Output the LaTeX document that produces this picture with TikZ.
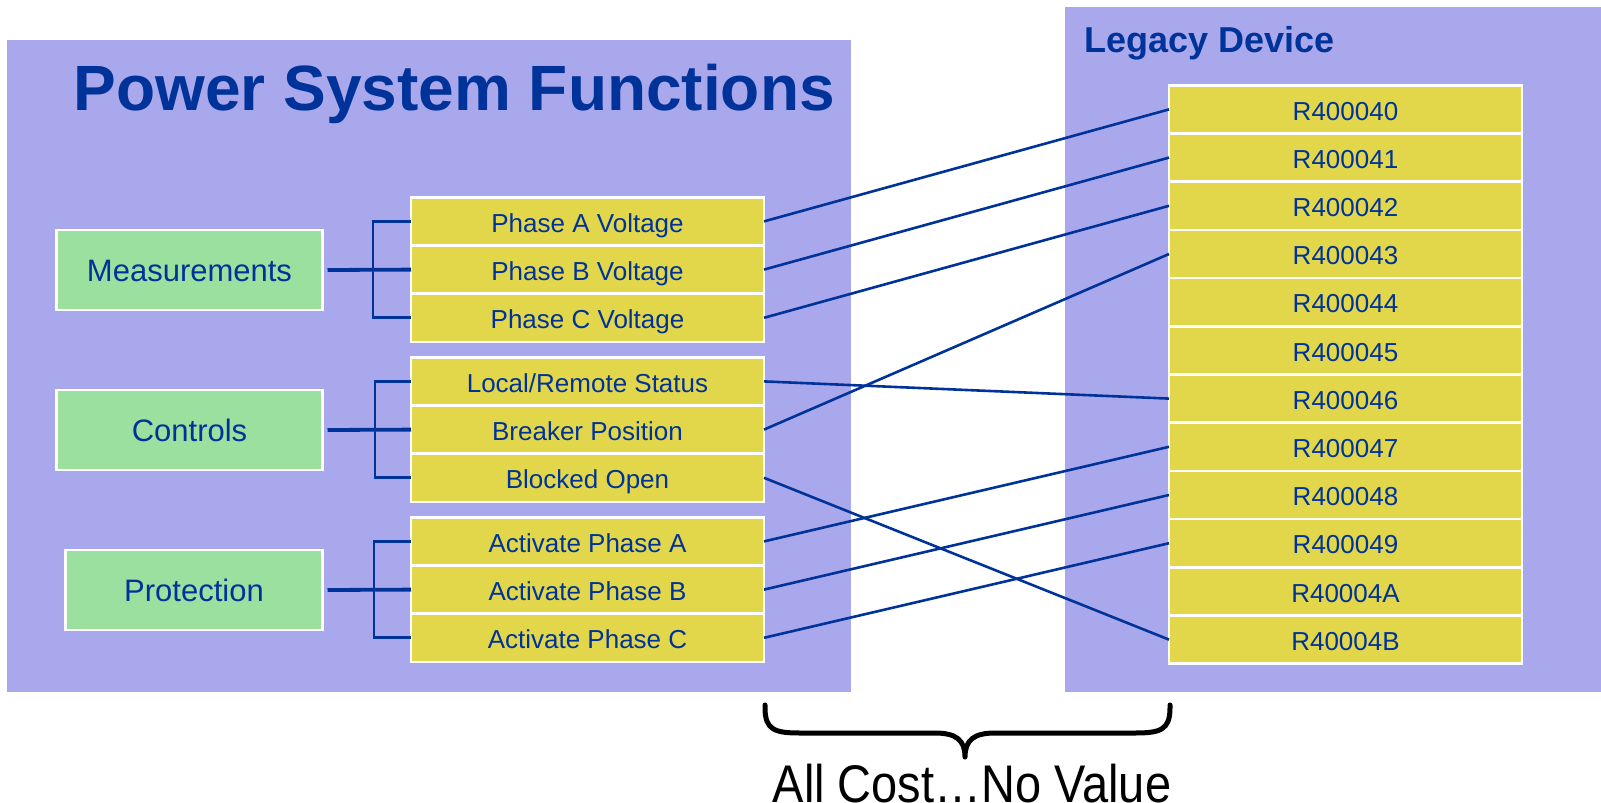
\documentclass[tikz,border=0pt]{standalone}
\usepackage{fontspec}
\setmainfont{Liberation Sans}
\usetikzlibrary{calc}
\definecolor{panelc}{RGB}{170,168,236}
\definecolor{yellowc}{RGB}{226,215,74}
\definecolor{greenc}{RGB}{155,224,158}
\definecolor{bluec}{RGB}{0,51,153}
\begin{document}
\begin{tikzpicture}[x=1pt,y=-1pt,
  panelbox/.style={fill=panelc,draw=none},
  ybox/.style={fill=yellowc,draw=white,line width=2.5pt,minimum width=353pt,minimum height=48.2pt,inner sep=0pt,outer sep=0pt,text=bluec,font=\fontsize{26}{26}\selectfont,text height=21.5pt,text depth=0pt},
  gbox/.style={fill=greenc,draw=white,line width=2.5pt,minimum height=80pt,inner sep=0pt,outer sep=0pt,text=bluec,font=\fontsize{31}{31}\selectfont,text height=23pt,text depth=0pt},
  conn/.style={draw=bluec,line width=2.6pt},
  trunk/.style={draw=bluec,line width=3.8pt},
  branch/.style={draw=bluec,line width=2.8pt},
  titletext/.style={text=bluec,inner sep=0pt,anchor=base west,font=\bfseries\fontsize{64}{64}\selectfont},
  subtitletext/.style={text=bluec,inner sep=0pt,anchor=base west,font=\bfseries\fontsize{36}{36}\selectfont},
  bracepath/.style={draw=black,line width=5pt,line cap=round,line join=round}
]
\useasboundingbox (0,0) rectangle (1601,803);
% panels
\path[panelbox] (7,40) rectangle (851,692);
\path[panelbox] (1065,7) rectangle (1601,692);
\node[titletext] (title) at (73.5,110) {Power System Functions};
\node[subtitletext] (legacy) at (1084,52) {Legacy Device};
% green boxes
\node[gbox,minimum width=266pt] (meas) at (189.5,270) {Measurements};
\node[gbox,minimum width=266pt] (ctrl) at (189.5,430) {Controls};
\node[gbox,minimum width=257pt] (prot) at (194,590) {Protection};
% left yellow boxes
\node[ybox] (phA) at (587.5,221.4) {Phase A Voltage};
\node[ybox] (phB) at (587.5,269.6) {Phase B Voltage};
\node[ybox] (phC) at (587.5,317.8) {Phase C Voltage};
\node[ybox] (lrs) at (587.5,381.4) {Local/Remote Status};
\node[ybox] (brk) at (587.5,429.6) {Breaker Position};
\node[ybox] (blk) at (587.5,477.8) {Blocked Open};
\node[ybox] (acA) at (587.5,541.4) {Activate Phase A};
\node[ybox] (acB) at (587.5,589.6) {Activate Phase B};
\node[ybox] (acC) at (587.5,637.8) {Activate Phase C};
% right yellow boxes
\node[ybox] (r40) at (1345.5,109.4) {R400040};
\node[ybox] (r41) at (1345.5,157.6) {R400041};
\node[ybox] (r42) at (1345.5,205.8) {R400042};
\node[ybox] (r43) at (1345.5,254.0) {R400043};
\node[ybox] (r44) at (1345.5,302.2) {R400044};
\node[ybox] (r45) at (1345.5,350.4) {R400045};
\node[ybox] (r46) at (1345.5,398.6) {R400046};
\node[ybox] (r47) at (1345.5,446.8) {R400047};
\node[ybox] (r48) at (1345.5,495.0) {R400048};
\node[ybox] (r49) at (1345.5,543.2) {R400049};
\node[ybox] (r4A) at (1345.5,591.4) {R40004A};
\node[ybox] (r4B) at (1345.5,639.6) {R40004B};
% bracket connectors
\draw[trunk] ([xshift=5pt]meas.east) -- (phB.west);
\draw[branch] (phA.west) -- ++(-38,0) |- (phC.west);
\draw[trunk] ([xshift=5pt]ctrl.east) -- (brk.west);
\draw[branch] (lrs.west) -- ++(-36,0) |- (blk.west);
\draw[trunk] ([xshift=5pt]prot.east) -- (acB.west);
\draw[branch] (acA.west) -- ++(-37,0) |- (acC.west);
% mapping lines
\draw[conn] (phA.east) -- (r40.west);
\draw[conn] (phB.east) -- (r41.west);
\draw[conn] (phC.east) -- (r42.west);
\draw[conn] (lrs.east) -- (r46.west);
\draw[conn] (brk.east) -- (r43.west);
\draw[conn] (blk.east) -- (r4B.west);
\draw[conn] (acA.east) -- (r47.west);
\draw[conn] (acB.east) -- (r48.west);
\draw[conn] (acC.east) -- (r49.west);
% brace
\draw[bracepath] (765,705) -- (765,708) .. controls (765,730) and (775,733) .. (800,733)
  -- (935,733) .. controls (956,733) and (965,740) .. (965,757)
  .. controls (965,740) and (974,733) .. (995,733)
  -- (1135,733) .. controls (1160,733) and (1170,730) .. (1170,708) -- (1170,705);
\node[inner sep=0pt,anchor=base,font=\fontsize{53}{53}\selectfont,text=black,xscale=0.886] (cost) at (972,802) {All Cost…No Value};
\end{tikzpicture}
\end{document}
